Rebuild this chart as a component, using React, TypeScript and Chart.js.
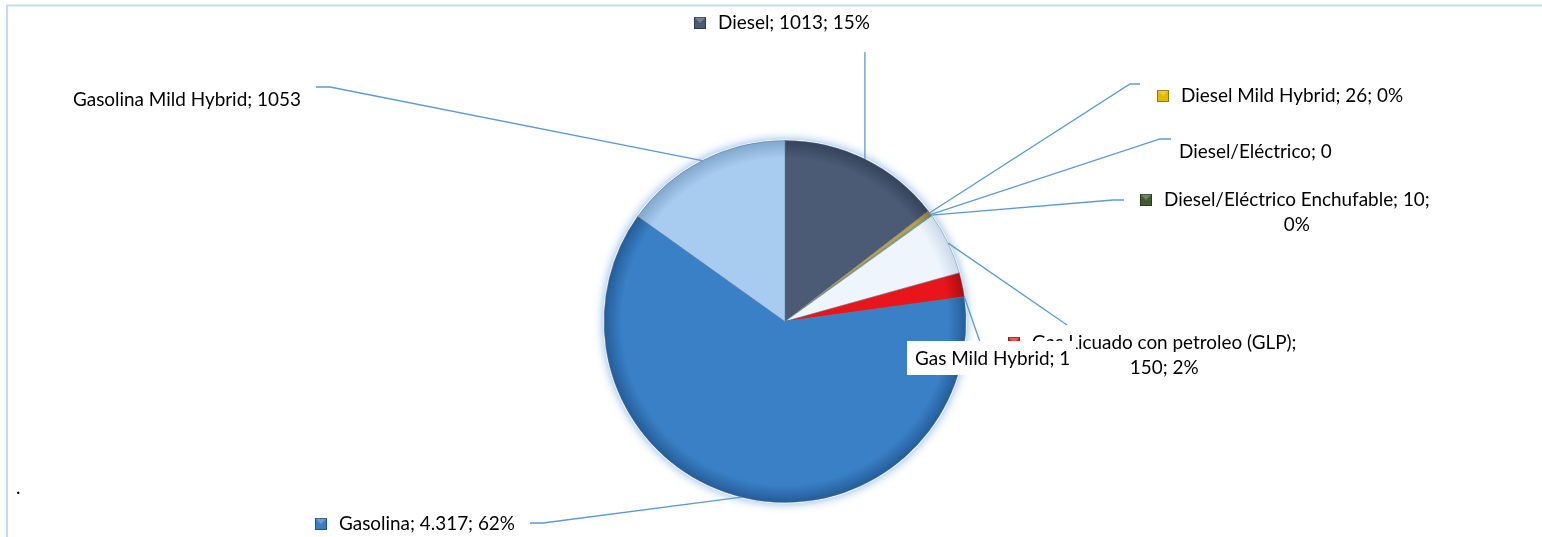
import React, { useEffect, useRef } from "react";
import { Chart, registerables } from "chart.js";
Chart.register(...registerables);

const categories = [
  "Diesel",
  "Diesel Mild Hybrid",
  "Diesel/Eléctrico",
  "Diesel/Eléctrico Enchufable",
  "Gasolina/Eléctrico",
  "Gas Licuado con petroleo (GLP)",
  "Gas Mild Hybrid",
  "Gasolina",
  "Gasolina Mild Hybrid",
];
const values = [1013, 26, 0, 10, 390, 150, 1, 4317, 1053];
const sliceColors = ["#4B5B75", "#B9A24A", "#7F7F7F", "#8DB36B", "#EEF5FC", "#E8161B", "#9DC3E6", "#3A80C6", "#A8CCEF"];
const edgeColors = ["#34425A", "#8A7830", "#5F5F5F", "#5E8046", "#C9D9EA", "#A80E12", "#6F97BE", "#235C98", "#7FA6CC"];
const labelLines: string[][] = [
  ["Diesel; 1013; 15%"],
  ["Diesel Mild Hybrid; 26; 0%"],
  ["Diesel/Eléctrico; 0"],
  ["Diesel/Eléctrico Enchufable; 10;", "0%"],
  [],
  ["Gas Licuado con petroleo (GLP);", "150; 2%"],
  ["Gas Mild Hybrid; 1"],
  ["Gasolina; 4.317; 62%"],
  ["Gasolina Mild Hybrid; 1053"],
];
const markerColors: (string | null)[] = ["#4A5A72", "#E6B800", null, "#3D5C2F", null, "#E02020", null, "#3A7DC4", null];

type Layout = {
  textX: number;
  y: number;
  markerX?: number;
  leaderFrom: number;
  leader: [number, number][];
  verticalLeader?: number;
  box?: [number, number, number, number];
};

const layout: (Layout | null)[] = [
  { textX: 718, y: 23, markerX: 694, leaderFrom: 0, leader: [], verticalLeader: 52 },
  { textX: 1181, y: 96, markerX: 1157, leaderFrom: 1, leader: [[1130, 84], [1140, 84]] },
  { textX: 1179, y: 152, leaderFrom: 2, leader: [[1160, 139], [1171, 139]] },
  { textX: 1164, y: 200, markerX: 1140, leaderFrom: 3, leader: [[1113, 200], [1124, 200]] },
  null,
  { textX: 1032, y: 343, markerX: 1008, leaderFrom: 4, leader: [[1067, 325]] },
  { textX: 915, y: 359, leaderFrom: 6, leader: [[980, 342]], box: [907, 341, 169, 34] },
  { textX: 339, y: 524, markerX: 315, leaderFrom: 7, leader: [[543, 523], [530, 523]] },
  { textX: 73, y: 100, leaderFrom: 8, leader: [[330, 87], [316, 87]] },
];

const FONT_FAMILY = "Lato, 'Open Sans', sans-serif";

function arcPoint(chart: any, i: number) {
  const el = chart.getDatasetMeta(0).data[i] as any;
  const a = (el.startAngle + el.endAngle) / 2;
  return [el.x + el.outerRadius * Math.cos(a), el.y + el.outerRadius * Math.sin(a)];
}

const framePlugin = {
  id: "frame",
  beforeDraw(chart: any) {
    const ctx = chart.ctx;
    ctx.save();
    ctx.strokeStyle = "#C6DBF0";
    ctx.lineWidth = 2;
    ctx.beginPath();
    ctx.moveTo(7, 540);
    ctx.lineTo(7, 5.5);
    ctx.lineTo(1542, 5.5);
    ctx.stroke();
    ctx.restore();
  },
  beforeDatasetsDraw(chart: any) {
    const el = chart.getDatasetMeta(0).data[0] as any;
    if (!el) return;
    const ctx = chart.ctx;
    ctx.save();
    ctx.shadowColor = "rgba(110,165,225,0.85)";
    ctx.shadowBlur = 10;
    ctx.fillStyle = "#ffffff";
    ctx.beginPath();
    ctx.arc(el.x, el.y, el.outerRadius + 1, 0, Math.PI * 2);
    ctx.fill();
    ctx.restore();
  },
};

const labelPlugin = {
  id: "sliceLabels",
  afterDatasetsDraw(chart: any) {
    const ctx = chart.ctx;
    ctx.save();
    ctx.font = `100px ${FONT_FAMILY}`;
    const ref = ctx.measureText(labelLines[0][0]).width;
    const size = (100 * 152) / ref;
    ctx.font = `${size.toFixed(2)}px ${FONT_FAMILY}`;
    const lineH = size * 1.33;

    // leader lines
    ctx.strokeStyle = "#5B9BD5";
    ctx.lineWidth = 1.3;
    layout.forEach((l) => {
      if (!l) return;
      const [sx, sy] = arcPoint(chart, l.leaderFrom);
      ctx.beginPath();
      ctx.moveTo(sx, sy);
      if (l.verticalLeader !== undefined) {
        ctx.lineTo(sx, l.verticalLeader);
      } else {
        l.leader.forEach(([x, y]) => ctx.lineTo(x, y));
      }
      ctx.stroke();
    });

    const order = [0, 1, 2, 3, 5, 7, 8, 6];
    order.forEach((i) => {
      const l = layout[i];
      if (!l) return;
      const lines = labelLines[i];
      if (l.box) {
        const [bx, by, bw, bh] = l.box;
        ctx.fillStyle = "#ffffff";
        ctx.fillRect(bx, by, bw, bh);
        ctx.save();
        ctx.beginPath();
        ctx.rect(bx, by, bw, bh);
        ctx.clip();
      }
      const mc = markerColors[i];
      if (mc && l.markerX !== undefined) {
        const mx = l.markerX;
        const my = l.y - 6;
        ctx.fillStyle = mc;
        ctx.fillRect(mx, my, 12, 12);
        ctx.fillStyle = "rgba(255,255,255,0.25)";
        ctx.beginPath();
        ctx.moveTo(mx, my);
        ctx.lineTo(mx + 12, my);
        ctx.lineTo(mx + 6, my + 6);
        ctx.closePath();
        ctx.fill();
        ctx.strokeStyle = "rgba(0,0,0,0.35)";
        ctx.lineWidth = 1;
        ctx.strokeRect(mx + 0.5, my + 0.5, 11, 11);
      }
      ctx.fillStyle = "#000000";
      ctx.textBaseline = "middle";
      const firstW = ctx.measureText(lines[0]).width;
      lines.forEach((t, k) => {
        if (k === 0) {
          ctx.textAlign = "left";
          ctx.fillText(t, l.textX, l.y);
        } else {
          ctx.textAlign = "center";
          ctx.fillText(t, l.textX + firstW / 2, l.y + lineH * k);
        }
      });
      if (l.box) ctx.restore();
    });

    ctx.textAlign = "left";
    ctx.fillStyle = "#000000";
    ctx.fillText(".", 16, 488);
    ctx.restore();
  },
};

export default function App() {
  const ref = useRef<HTMLCanvasElement | null>(null);
  useEffect(() => {
    if (!ref.current) return;
    const chart = new Chart(ref.current, {
      type: "pie",
      data: {
        labels: categories,
        datasets: [
          {
            data: values,
            backgroundColor: (c: any) => {
              const i = c.dataIndex;
              const base = sliceColors[i];
              const a = c.chart.chartArea;
              if (!a) return base;
              const cx = (a.left + a.right) / 2;
              const cy = (a.top + a.bottom) / 2;
              const r = Math.min(a.right - a.left, a.bottom - a.top) / 2;
              const g = c.chart.ctx.createRadialGradient(cx, cy, 0, cx, cy, r);
              g.addColorStop(0, base);
              g.addColorStop(0.9, base);
              g.addColorStop(1, edgeColors[i]);
              return g;
            },
            borderColor: "rgba(90,110,140,0.45)",
            borderWidth: 1,
          },
        ],
      },
      options: {
        responsive: false,
        animation: false,
        layout: { padding: { left: 400, right: 372, top: 140, bottom: 34 } },
        plugins: { legend: { display: false }, tooltip: { enabled: false } },
      },
      plugins: [framePlugin, labelPlugin],
    });
    return () => chart.destroy();
  }, []);
  return (
    <div style={{ position: "absolute", left: 0, top: 0, width: 1542, height: 537, background: "#fff" }}>
      <canvas ref={ref} width={1542} height={537} style={{ display: "block", width: 1542, height: 537 }} />
    </div>
  );
}
